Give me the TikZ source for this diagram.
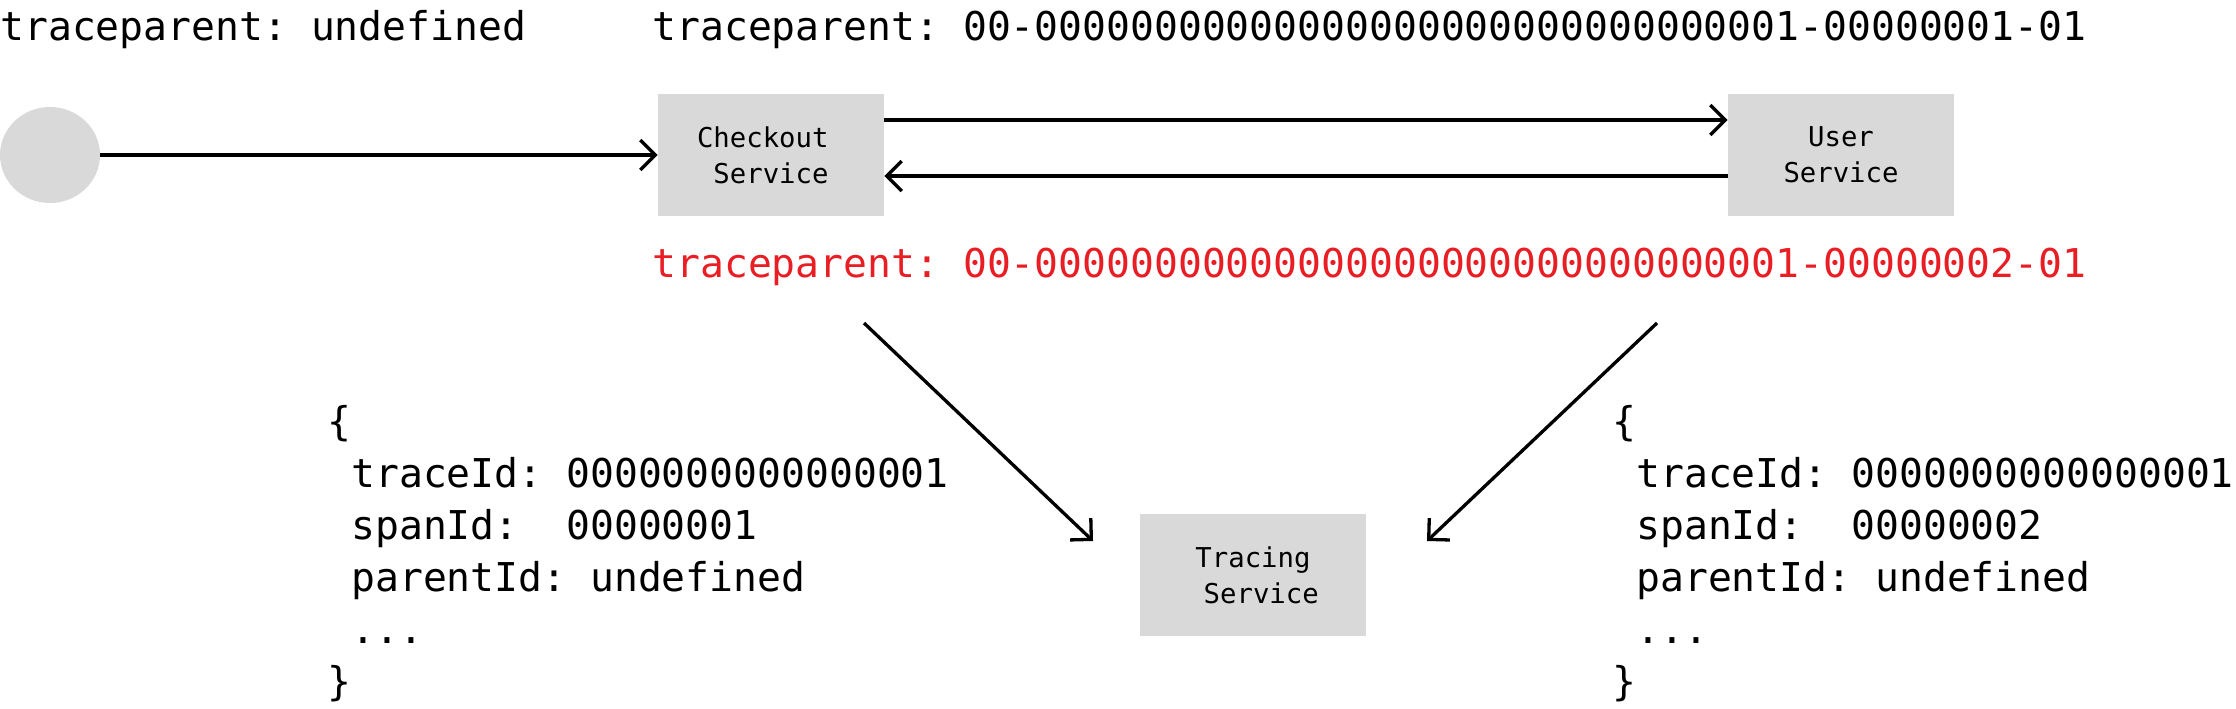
\documentclass[tikz,border=0pt]{standalone}
\usepackage{fontspec}
\setmonofont{DejaVu Sans Mono}
\usetikzlibrary{arrows.meta,shapes.geometric}
\definecolor{boxgray}{RGB}{217,217,217}
\definecolor{tpred}{RGB}{232,30,36}
\begin{document}
\begin{tikzpicture}[x=0.5pt,y=-0.5pt,
  code/.style={font=\ttfamily\fontsize{19.85pt}{26pt}\selectfont, inner sep=0pt, anchor=base west},
  svc/.style={fill=boxgray, minimum width=113pt, minimum height=61pt, inner sep=0pt, align=center, font=\ttfamily\fontsize{13.65pt}{18pt}\selectfont},
  conn/.style={line width=1.65pt, -{Straight Barb[length=7.5pt,width=15pt]}}]
\useasboundingbox (0,0) rectangle (2236,708);

% top texts
\node[code] (tpundef) at (0,40) {traceparent: undefined};
\node[code] (tpone) at (652,40) {traceparent: 00-00000000000000000000000000000001-00000001-01};
\node[code, text=tpred] (tptwo) at (652,277) {traceparent: 00-00000000000000000000000000000001-00000002-01};

% client circle
\node[ellipse, fill=boxgray, minimum width=50pt, minimum height=48pt, inner sep=0pt] (client) at (50,155) {};

% services
\node[svc] (checkout) at (771,155) {Checkout\ \mbox{}\\\mbox{}\ Service\ \mbox{}};
\node[svc] (user) at (1841,155) {User\\Service};
\node[svc] (tracing) at (1253,575) {Tracing\\\mbox{}\ Service};

% connectors
\draw[conn] (client.east) -- (checkout.west);
\draw[conn] (checkout.east |- 0,120) -- (user.west |- 0,120);
\draw[conn] (user.west |- 0,176) -- (checkout.east |- 0,176);

\coordinate (ls) at (864,323);
\coordinate (le) at (1093,541);
\coordinate (rs) at (1657,323);
\coordinate (re) at (1427,541);
\draw[conn] (ls) -- (le);
\draw[conn] (rs) -- (re);

% left json
\node[code] (la) at (327,435) {\{};
\node[code] (lb) at (327,487) {\ traceId: 0000000000000001};
\node[code] (lc) at (327,539) {\ spanId:\ \ 00000001};
\node[code] (ld) at (327,591) {\ parentId: undefined};
\node[code] (le2) at (327,643) {\ ...};
\node[code] (lf) at (327,695) {\}};

% right json
\node[code] (ra) at (1612,435) {\{};
\node[code] (rb) at (1612,487) {\ traceId: 0000000000000001};
\node[code] (rc) at (1612,539) {\ spanId:\ \ 00000002};
\node[code] (rd) at (1612,591) {\ parentId: undefined};
\node[code] (re2) at (1612,643) {\ ...};
\node[code] (rf) at (1612,695) {\}};
\end{tikzpicture}
\end{document}
